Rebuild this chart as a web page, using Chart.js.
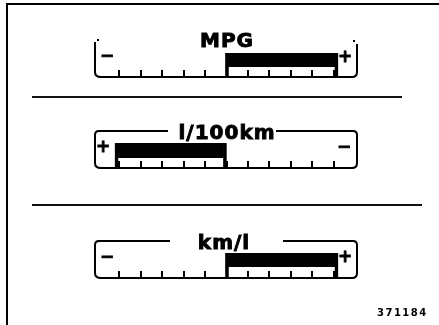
<!DOCTYPE html>
<html><head><meta charset="utf-8">
<script src="https://cdn.jsdelivr.net/npm/chart.js@4.4.0/dist/chart.umd.min.js"></script>
<style>
html,body{margin:0;padding:0;background:#fff;width:439px;height:325px;overflow:hidden;}
#wrap{position:relative;width:439px;height:325px;}
canvas{position:absolute;left:0;top:0;}
.frame{position:absolute;left:6px;top:3px;width:460px;height:340px;border-left:2px solid #000;border-top:2px solid #000;}
.rule{position:absolute;height:2px;background:#111;}
#fig{position:absolute;left:377px;top:307px;font:bold 10px "DejaVu Sans";letter-spacing:1.5px;color:#000;}
</style></head>
<body><div id="wrap">
<div class="frame"></div>
<div class="rule" style="left:32px;top:96px;width:370px"></div>
<div class="rule" style="left:32px;top:204px;width:390px"></div>
<canvas id="g0" width="439" height="325"></canvas>
<canvas id="g1" width="439" height="325"></canvas>
<canvas id="g2" width="439" height="325"></canvas>
<div id="fig">371184</div>
</div>
<script>
// ---- data ----
const gaugeTitles = ['MPG', 'l/100km', 'km/l'];
const barStart = [4.95, -0.2, 4.95];
const barEnd = [10.2, 5.0, 10.2];
const tickValues = [0, 1, 2, 3, 4, 5, 6, 7, 8, 9, 10];
const leftSigns = ['\u2212', '+', '\u2212'];
const rightSigns = ['+', '\u2212', '+'];

// ---- layout / style (not data) ----
const layouts = [
  {barTop: 53, base: 77, solid: 14, titleX: 226, titleY: 47, frameTop: null, bracketTop: 42,
   lSign: [107, 57], rSign: [345, 58]},
  {barTop: 143, base: 168, solid: 15, titleX: 226, titleY: 139, frameTop: 131, gapL: 168, gapR: 276,
   lSign: [103, 148], rSign: [344, 148]},
  {barTop: 253, base: 278, solid: 14, titleX: 223, titleY: 249, frameTop: 241, gapL: 170, gapR: 283,
   lSign: [107, 258], rSign: [345, 258]}
];

const decor = {
  id: 'gaugeDecor',
  afterDatasetsDraw(chart, args, opts) {
    const L = layouts[opts.i];
    const ctx = chart.ctx;
    const xs = chart.scales.x;
    const ca = chart.chartArea;
    ctx.save();
    ctx.strokeStyle = '#000';
    ctx.fillStyle = '#000';
    // tick marks rising from baseline
    ctx.lineWidth = 2;
    xs.ticks.forEach(t => {
      const px = Math.round(xs.getPixelForValue(t.value));
      ctx.beginPath();
      ctx.moveTo(px, ca.bottom);
      ctx.lineTo(px, ca.bottom - 7);
      ctx.stroke();
    });
    // brackets / frame
    const lx = 95, rx = 357;
    ctx.lineWidth = 2;
    ctx.beginPath();
    if (L.frameTop != null) {
      ctx.moveTo(L.gapL, L.frameTop);
      ctx.lineTo(lx + 4, L.frameTop);
      ctx.quadraticCurveTo(lx, L.frameTop, lx, L.frameTop + 4);
    } else {
      ctx.moveTo(lx, L.bracketTop);
    }
    ctx.lineTo(lx, ca.bottom - 5);
    ctx.quadraticCurveTo(lx, ca.bottom, lx + 6, ca.bottom);
    ctx.stroke();
    ctx.beginPath();
    ctx.moveTo(ca.right, ca.bottom);
    ctx.quadraticCurveTo(rx, ca.bottom, rx, ca.bottom - 5);
    if (L.frameTop != null) {
      ctx.lineTo(rx, L.frameTop + 4);
      ctx.quadraticCurveTo(rx, L.frameTop, rx - 4, L.frameTop);
      ctx.lineTo(L.gapR, L.frameTop);
    } else {
      ctx.lineTo(rx, L.bracketTop + 2);
    }
    ctx.stroke();
    if (L.frameTop == null) {
      ctx.fillRect(97, L.bracketTop - 3, 2, 2);
      ctx.fillRect(353, L.bracketTop - 2, 2, 2);
    }
    // signs
    ctx.font = 'bold 17px "DejaVu Sans"';
    ctx.textAlign = 'center';
    ctx.textBaseline = 'middle';
    ctx.lineWidth = 0.8;
    ctx.fillText(leftSigns[opts.i], L.lSign[0], L.lSign[1]);
    ctx.strokeText(leftSigns[opts.i], L.lSign[0], L.lSign[1]);
    ctx.fillText(rightSigns[opts.i], L.rSign[0], L.rSign[1]);
    ctx.strokeText(rightSigns[opts.i], L.rSign[0], L.rSign[1]);
    // title
    ctx.font = 'bold 20px "DejaVu Sans"';
    ctx.letterSpacing = '1px';
    ctx.textBaseline = 'alphabetic';
    ctx.lineWidth = 0.9;
    ctx.fillText(gaugeTitles[opts.i], L.titleX + 1, L.titleY);
    ctx.strokeText(gaugeTitles[opts.i], L.titleX + 1, L.titleY);
    ctx.restore();
  }
};

gaugeTitles.forEach((title, i) => {
  const L = layouts[i];
  new Chart(document.getElementById('g' + i), {
    type: 'bar',
    data: {
      labels: [title],
      datasets: [{
        data: [[barStart[i], barEnd[i]]],
        backgroundColor: (c) => {
          const ca = c.chart.chartArea;
          if (!ca) return '#000';
          const g = c.chart.ctx.createLinearGradient(0, ca.top, 0, ca.bottom);
          const f = L.solid / (ca.bottom - ca.top);
          g.addColorStop(0, '#000');
          g.addColorStop(f, '#000');
          g.addColorStop(f, 'rgba(0,0,0,0)');
          g.addColorStop(1, 'rgba(0,0,0,0)');
          return g;
        },
        borderColor: '#000',
        borderWidth: {left: 3, right: 3, top: 0, bottom: 0},
        borderSkipped: false,
        barPercentage: 1,
        categoryPercentage: 1
      }]
    },
    options: {
      indexAxis: 'y',
      responsive: false,
      animation: false,
      events: [],
      layout: {padding: {left: 101, right: 87, top: L.barTop, bottom: 325 - L.base}},
      plugins: {legend: {display: false}, tooltip: {enabled: false}, gaugeDecor: {i: i}},
      scales: {
        x: {
          type: 'linear', min: -0.85, max: 10.85,
          afterBuildTicks: (s) => { s.ticks = tickValues.map(v => ({value: v})); },
          ticks: {display: false},
          grid: {display: true, drawOnChartArea: false, drawTicks: false},
          border: {display: true, color: '#000', width: 2}
        },
        y: {display: false}
      }
    },
    plugins: [decor]
  });
});
</script>
</body></html>
